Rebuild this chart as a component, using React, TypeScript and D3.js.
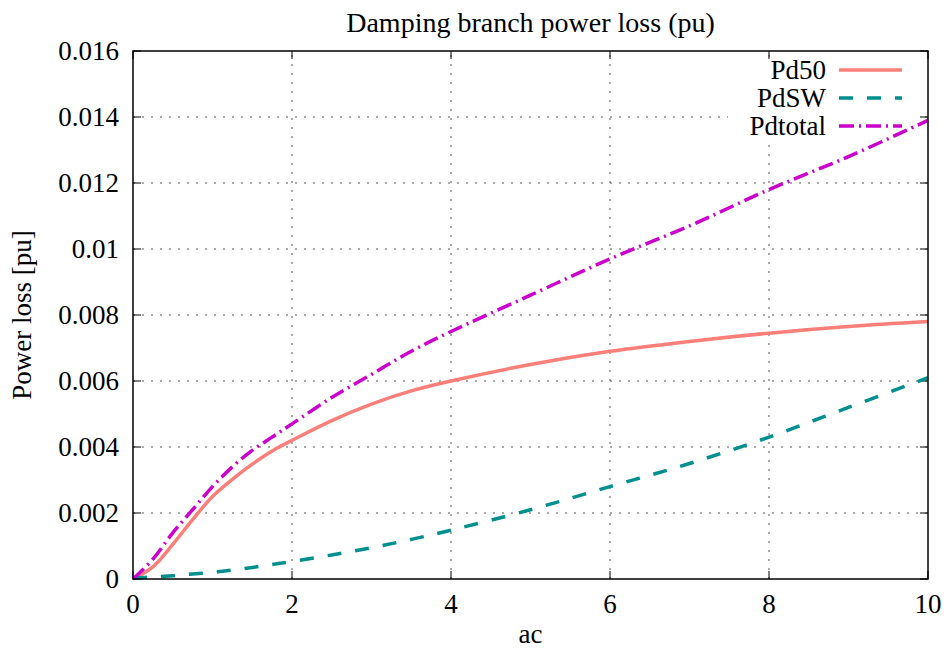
import React, { useEffect, useRef } from 'react';
import * as d3 from 'd3';

// values
const acValues = [0, 0.25, 0.5, 0.75, 1, 1.25, 1.5, 1.75, 2, 2.5, 3, 3.5, 4, 5, 6, 7, 8, 9, 10];
const pd50 = [0, 0.00037, 0.00105, 0.0018, 0.0025, 0.00302, 0.00348, 0.00388, 0.0042, 0.0048, 0.0053, 0.0057, 0.006, 0.0065, 0.0069, 0.0072, 0.00745, 0.00765, 0.0078];
const pdSW = [0.00003, 0.00006, 0.0001, 0.00015, 0.0002, 0.00027, 0.00035, 0.00044, 0.00053, 0.00073, 0.00095, 0.0012, 0.00148, 0.0021, 0.0028, 0.0035, 0.0043, 0.0052, 0.0061];
const pdTotal = [0, 0.0006, 0.0014, 0.0021, 0.0028, 0.0034, 0.0039, 0.0043, 0.0047, 0.0055, 0.0062, 0.0069, 0.0075, 0.0086, 0.0097, 0.0107, 0.0118, 0.0128, 0.0139];

const xTicks = [0, 2, 4, 6, 8, 10];
const yTicks = [0, 0.002, 0.004, 0.006, 0.008, 0.01, 0.012, 0.014, 0.016];

const seriesNames = ['Pd50', 'PdSW', 'Pdtotal'];
const seriesColors = ['#fa7f78', '#008f8f', '#cc00cc'];
const seriesDash = ['none', '14,14', '15,5,2,5'];

export default function App() {
  const ref = useRef(null);

  useEffect(() => {
    if (!ref.current) return;
    const svg = d3.select(ref.current);
    svg.selectAll('*').remove();

    const width = 946;
    const height = 650;
    const margin = { top: 51, right: 18, bottom: 71, left: 133 };
    const font = "'Liberation Serif', 'Times New Roman', serif";

    const x = d3.scaleLinear().domain([0, 10]).range([margin.left, width - margin.right]);
    const y = d3.scaleLinear().domain([0, 0.016]).range([height - margin.bottom, margin.top]);

    // grid
    const grid = svg.append('g').attr('stroke', '#555').attr('stroke-width', 1).attr('stroke-dasharray', '2,7');
    xTicks.slice(1, -1).forEach(t => {
      grid.append('line').attr('x1', x(t)).attr('x2', x(t)).attr('y1', y(0)).attr('y2', y(0.016));
    });
    yTicks.slice(1, -1).forEach(t => {
      grid.append('line').attr('x1', x(0)).attr('x2', x(10)).attr('y1', y(t)).attr('y2', y(t));
    });

    // opaque key box
    svg.append('rect').attr('x', 728).attr('y', 57).attr('width', 190).attr('height', 83).attr('fill', '#fff');

    // ticks on all sides, inward
    const ticks = svg.append('g').attr('stroke', '#000').attr('stroke-width', 1);
    xTicks.forEach(t => {
      ticks.append('line').attr('x1', x(t)).attr('x2', x(t)).attr('y1', y(0)).attr('y2', y(0) - 8);
      ticks.append('line').attr('x1', x(t)).attr('x2', x(t)).attr('y1', y(0.016)).attr('y2', y(0.016) + 8);
    });
    yTicks.forEach(t => {
      ticks.append('line').attr('x1', x(0)).attr('x2', x(0) + 8).attr('y1', y(t)).attr('y2', y(t));
      ticks.append('line').attr('x1', x(10)).attr('x2', x(10) - 8).attr('y1', y(t)).attr('y2', y(t));
    });

    // curves
    const allSeries = [pd50, pdSW, pdTotal];
    const line = d3.line<number>()
      .x((d, i) => x(acValues[i]))
      .y(d => y(d))
      .curve(d3.curveCatmullRom.alpha(0.5));

    allSeries.forEach((s, k) => {
      svg.append('path')
        .attr('d', line(s))
        .attr('fill', 'none')
        .attr('stroke', seriesColors[k])
        .attr('stroke-width', 3.5)
        .attr('stroke-dasharray', seriesDash[k]);
    });

    // border
    svg.append('rect')
      .attr('x', x(0)).attr('y', y(0.016))
      .attr('width', x(10) - x(0)).attr('height', y(0) - y(0.016))
      .attr('fill', 'none').attr('stroke', '#000').attr('stroke-width', 1.5);

    // tick labels
    const labels = svg.append('g').style('font-family', font).attr('font-size', 27).attr('fill', '#000');
    yTicks.forEach(t => {
      labels.append('text')
        .attr('x', x(0) - 14).attr('y', y(t))
        .attr('dy', '0.33em')
        .attr('text-anchor', 'end')
        .text(t === 0 ? '0' : d3.format('.3f')(t).replace(/0+$/, ''));
    });
    xTicks.forEach(t => {
      labels.append('text')
        .attr('x', x(t)).attr('y', 613)
        .attr('text-anchor', 'middle')
        .text(String(t));
    });

    // legend
    const legendY = [70, 98, 126];
    seriesNames.forEach((name, k) => {
      labels.append('text')
        .attr('x', 826).attr('y', legendY[k]).attr('dy', '0.33em')
        .attr('text-anchor', 'end')
        .text(name);
      svg.append('line')
        .attr('x1', 839).attr('x2', 902).attr('y1', legendY[k]).attr('y2', legendY[k])
        .attr('stroke', seriesColors[k]).attr('stroke-width', 3.5)
        .attr('stroke-dasharray', seriesDash[k]);
    });

    // titles
    svg.append('text')
      .attr('x', (x(0) + x(10)) / 2).attr('y', 32)
      .attr('text-anchor', 'middle')
      .style('font-family', font).attr('font-size', 28)
      .text('Damping branch power loss (pu)');

    svg.append('text')
      .attr('x', (x(0) + x(10)) / 2).attr('y', 643)
      .attr('text-anchor', 'middle')
      .style('font-family', font).attr('font-size', 27)
      .text('ac');

    svg.append('text')
      .attr('transform', `translate(31,${(y(0) + y(0.016)) / 2}) rotate(-90)`)
      .attr('text-anchor', 'middle')
      .style('font-family', font).attr('font-size', 27)
      .text('Power loss [pu]');
  }, []);

  return (
    <svg
      ref={ref}
      width={946}
      height={650}
      style={{ position: 'absolute', left: 0, top: 0, background: '#fff' }}
    />
  );
}
